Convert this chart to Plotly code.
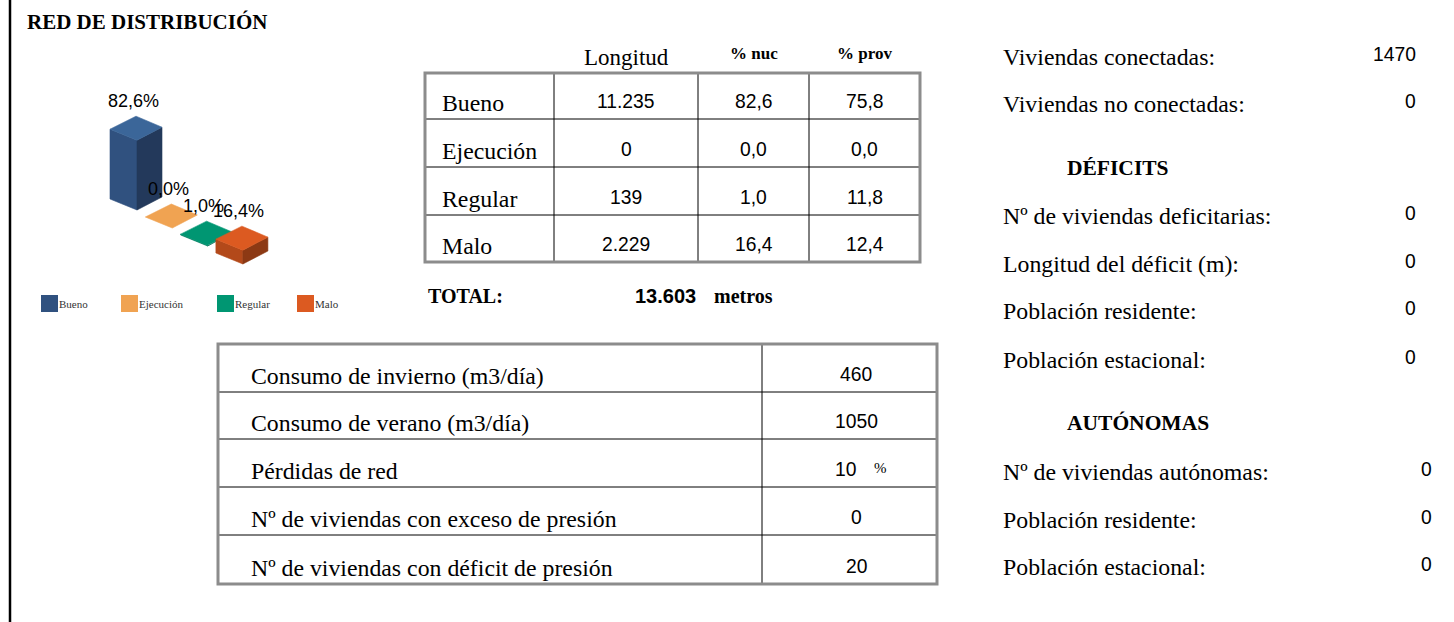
import plotly.graph_objects as go

# ---------------- DATA ----------------
title = "RED DE DISTRIBUCIÓN"
categories = ["Bueno", "Ejecución", "Regular", "Malo"]
longitud = [11235, 0, 139, 2229]
pct_nuc = [82.6, 0.0, 1.0, 16.4]
pct_prov = [75.8, 0.0, 11.8, 12.4]
total_metros = 13603
header_cols = ["Longitud", "% nuc", "% prov"]

consumo_labels = [
    "Consumo de invierno (m3/día)",
    "Consumo de verano (m3/día)",
    "Pérdidas de red",
    "Nº de viviendas con exceso de presión",
    "Nº de viviendas con déficit de presión",
]
consumo_values = [460, 1050, 10, 0, 20]
consumo_units = ["", "", "%", "", ""]

viviendas_labels = ["Viviendas conectadas:", "Viviendas no conectadas:"]
viviendas_values = [1470, 0]
deficit_title = "DÉFICITS"
deficit_labels = ["Nº de viviendas deficitarias:", "Longitud del déficit (m):",
                  "Población residente:", "Población estacional:"]
deficit_values = [0, 0, 0, 0]
autonomas_title = "AUTÓNOMAS"
autonomas_labels = ["Nº de viviendas autónomas:", "Población residente:", "Población estacional:"]
autonomas_values = [0, 0, 0]

# ---------------- STYLE ----------------
SERIF = "Liberation Serif, Times New Roman, serif"
SANS = "Liberation Sans, Arial, sans-serif"
LABEL_SIZE = 23.8
VALUE_SIZE = 19.3
top_colors = ["#3B6699", "#F0A352", "#009672", "#DC5A21"]
left_colors = ["#30517F", "#D08A45", "#007D5F", "#B3491A"]
right_colors = ["#23395B", "#B07238", "#00644C", "#8C3914"]
legend_colors = ["#30517F", "#F0A352", "#009672", "#DC5A21"]


def fmt_int(n):
    return f"{n:,}".replace(",", ".")


def fmt_dec(v):
    return f"{v:.1f}".replace(".", ",")


fig = go.Figure()
shapes = []
annotations = []


def text(x, y, s, size, family=SERIF, bold=False, xanchor="left", color="#000000"):
    annotations.append(dict(
        x=x, y=y, xref="x", yref="y", text=(f"<b>{s}</b>" if bold else s),
        showarrow=False, xanchor=xanchor, yanchor="middle",
        font=dict(family=family, size=size, color=color), borderpad=0))


def line(x0, y0, x1, y1, color="#000000", width=1):
    shapes.append(dict(type="line", xref="x", yref="y", x0=x0, y0=y0, x1=x1, y1=y1,
                       line=dict(color=color, width=width)))


# left border
line(10, 0, 10, 622, "#000000", 2.5)

# title
text(26, 22, title, 21, bold=True)

# ---------------- pseudo-3D bar chart ----------------
ORIGIN = (137.0, 210.0)
STEP = (35.3, 18.0)
L = (-27.0, -11.0)
R = (25.0, -13.0)
B = (-1.0, -24.0)
K = 0.845  # px per percent


def poly(pts, color):
    xs = [p[0] for p in pts] + [pts[0][0]]
    ys = [p[1] for p in pts] + [pts[0][1]]
    fig.add_trace(go.Scatter(x=xs, y=ys, mode="lines", fill="toself", fillcolor=color,
                             line=dict(width=0.6, color=color), hoverinfo="skip",
                             showlegend=False))


for i, v in enumerate(pct_nuc):
    fx, fy = ORIGIN[0] + STEP[0] * i, ORIGIN[1] + STEP[1] * i
    h = v * K
    F = (fx, fy)
    Fh = (fx, fy - h)
    FL = (fx + L[0], fy + L[1])
    FR = (fx + R[0], fy + R[1])
    if h > 0.6:
        poly([FL, F, Fh, (FL[0], FL[1] - h)], left_colors[i])
        poly([F, FR, (FR[0], FR[1] - h), Fh], right_colors[i])
    poly([(FL[0], FL[1] - h), Fh, (FR[0], FR[1] - h), (fx + B[0], fy + B[1] - h)], top_colors[i])

for i, v in enumerate(pct_nuc):
    fx, fy = ORIGIN[0] + STEP[0] * i, ORIGIN[1] + STEP[1] * i
    h = v * K
    text(fx + B[0] - 3, fy + B[1] - h - 15, fmt_dec(v) + "%", 18, SANS, xanchor="center")

# legend
legend_x = [41, 121, 217, 297]
for i, c in enumerate(categories):
    shapes.append(dict(type="rect", xref="x", yref="y", x0=legend_x[i], x1=legend_x[i] + 17,
                       y0=295, y1=312, fillcolor=legend_colors[i], line=dict(width=0)))
    text(legend_x[i] + 17, 304, c, 11, color="#333333")

# ---------------- table 1 ----------------
t1_x = [425, 554, 698, 809, 920]
t1_y = [73, 119, 167, 215, 262]
for yy in t1_y[1:-1]:
    line(t1_x[0], yy, t1_x[-1], yy)
for xx in t1_x[1:-1]:
    line(xx, t1_y[0], xx, t1_y[-1])
shapes.append(dict(type="rect", xref="x", yref="y", x0=t1_x[0], x1=t1_x[-1], y0=t1_y[0], y1=t1_y[-1],
                   line=dict(color="#8C8C8C", width=3)))
col_c = [(t1_x[k] + t1_x[k + 1]) / 2 for k in range(1, 4)]
text(col_c[0], 57, header_cols[0], 23)
annotations[-1]["xanchor"] = "center"
text(col_c[1], 53, header_cols[1], 17, bold=True, xanchor="center")
text(col_c[2], 53, header_cols[2], 17, bold=True, xanchor="center")
for r, cat in enumerate(categories):
    yb = t1_y[r + 1]
    text(441, yb - 16, cat, LABEL_SIZE)
    text(col_c[0], yb - 18, fmt_int(longitud[r]), VALUE_SIZE, SANS, xanchor="center")
    text(col_c[1], yb - 18, fmt_dec(pct_nuc[r]), VALUE_SIZE, SANS, xanchor="center")
    text(col_c[2], yb - 18, fmt_dec(pct_prov[r]), VALUE_SIZE, SANS, xanchor="center")

text(427, 296, "TOTAL:", 20, bold=True)
text(634, 296, fmt_int(total_metros), 20, SANS, bold=True)
text(713, 296, "metros", 20, bold=True)

# ---------------- table 2 ----------------
t2_x = [218, 762, 937]
t2_y = [344, 392, 439, 487, 535, 584]
for yy in t2_y[1:-1]:
    line(t2_x[0], yy, t2_x[-1], yy)
line(t2_x[1], t2_y[0], t2_x[1], t2_y[-1])
shapes.append(dict(type="rect", xref="x", yref="y", x0=t2_x[0], x1=t2_x[-1], y0=t2_y[0], y1=t2_y[-1],
                   line=dict(color="#8C8C8C", width=3)))
for r, lab in enumerate(consumo_labels):
    yb = t2_y[r + 1]
    text(250, yb - 16, lab, LABEL_SIZE)
    if consumo_units[r]:
        text(857, yb - 18, str(consumo_values[r]), VALUE_SIZE, SANS, xanchor="right")
        text(873, yb - 19, consumo_units[r], 15)
    else:
        text(856, yb - 18, str(consumo_values[r]), VALUE_SIZE, SANS, xanchor="center")

# ---------------- right column ----------------
right_items = [(viviendas_labels[0], viviendas_values[0], 57, 1417),
               (viviendas_labels[1], viviendas_values[1], 104, 1417)]
for lab, val, yy in zip(deficit_labels, deficit_values, [216, 264, 311, 360]):
    right_items.append((lab, val, yy, 1417))
for lab, val, yy in zip(autonomas_labels, autonomas_values, [472, 520, 567]):
    right_items.append((lab, val, yy, 1433))
for lab, val, yy, xr in right_items:
    text(1002, yy, lab, LABEL_SIZE)
    text(xr, yy - 3, str(val), VALUE_SIZE, SANS, xanchor="right")
text(1066, 168, deficit_title, 21.5, bold=True)
text(1066, 423, autonomas_title, 21.5, bold=True)

fig.update_layout(
    width=1454, height=622, margin=dict(l=0, r=0, t=0, b=0),
    paper_bgcolor="#FFFFFF", plot_bgcolor="#FFFFFF",
    xaxis=dict(range=[0, 1454], visible=False, fixedrange=True),
    yaxis=dict(range=[622, 0], visible=False, fixedrange=True),
    shapes=shapes, annotations=annotations, showlegend=False, hovermode=False,
)

fig.write_html("out.html", config={"displayModeBar": False},
               post_script="document.body.style.margin='0';document.body.style.overflow='hidden';")
